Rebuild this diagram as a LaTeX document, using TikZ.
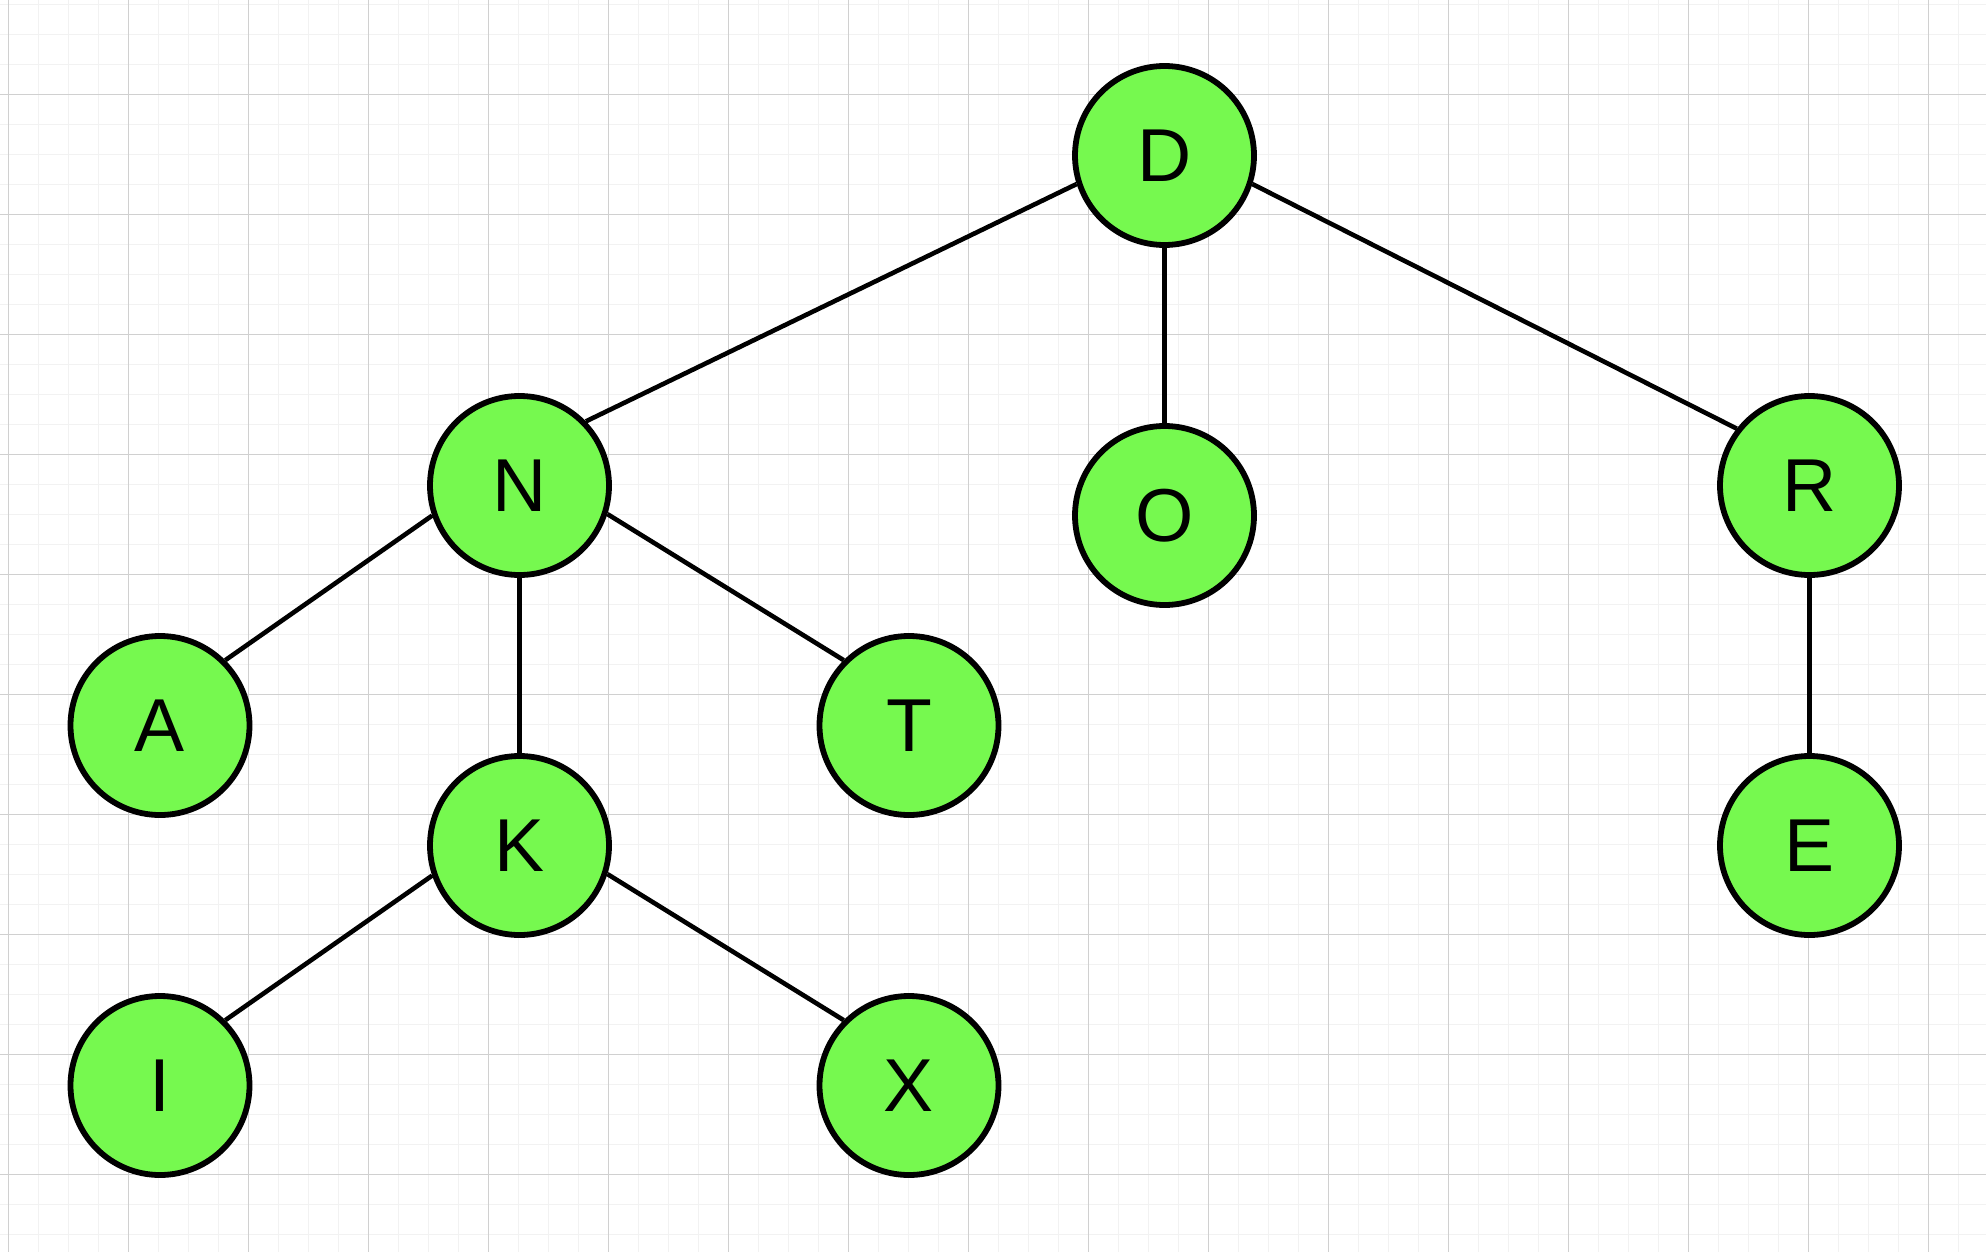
\documentclass[tikz,border=0pt]{standalone}
\usepackage{fontspec}
\setmainfont{Liberation Sans}
\begin{document}
\begin{tikzpicture}[x=0.5pt,y=-0.5pt,
  minorgrid/.style={draw={rgb,255:red,242;green,242;blue,242},line width=0.6pt},
  majorgrid/.style={draw={rgb,255:red,208;green,208;blue,208},line width=0.45pt},
  treenode/.style={circle,draw=black,line width=2.9pt,
    fill={rgb,255:red,118;green,249;blue,79},
    minimum size=89.5pt,inner sep=0pt,
    font=\fontsize{37.5}{45}\selectfont},
  link/.style={draw=black,line width=2.3pt}]
\useasboundingbox (0,0) rectangle (1986,1252);
\fill[white] (0,0) rectangle (1986,1252);
% background grid: fine lines every 30 units, heavier every 120
\foreach \i in {0,...,65} {
  \draw[minorgrid] ({8.3+30*\i},0) -- ({8.3+30*\i},1252);
}
\foreach \j in {0,...,41} {
  \draw[minorgrid] (0,{4.3+30*\j}) -- (1986,{4.3+30*\j});
}
\foreach \i in {0,...,16} {
  \draw[majorgrid] ({8.3+120*\i},0) -- ({8.3+120*\i},1252);
}
\foreach \j in {0,...,9} {
  \draw[majorgrid] (0,{94.3+120*\j}) -- (1986,{94.3+120*\j});
}
% tree nodes
\node[treenode] (D) at (1164.5,155.5) {D};
\node[treenode] (N) at (519.5,485.5) {N};
\node[treenode] (O) at (1164.5,515.5) {O};
\node[treenode] (R) at (1809.5,485.5) {R};
\node[treenode] (A) at (160,725.5) {A};
\node[treenode] (T) at (909,725.5) {T};
\node[treenode] (K) at (519.5,845.5) {K};
\node[treenode] (E) at (1809.5,845.5) {E};
\node[treenode] (I) at (160,1085.5) {I};
\node[treenode] (X) at (909,1085.5) {X};
% edges
\draw[link] (D.198) -- (N.44);
\draw[link] (D.south) -- (O.north);
\draw[link] (D.-18) -- (R.142);
\draw[link] (N.199) -- (A.45);
\draw[link] (N.south) -- (K.north);
\draw[link] (N.-18) -- (T.135);
\draw[link] (K.199) -- (I.45);
\draw[link] (K.-18) -- (X.135);
\draw[link] (R.south) -- (E.north);
\end{tikzpicture}
\end{document}
